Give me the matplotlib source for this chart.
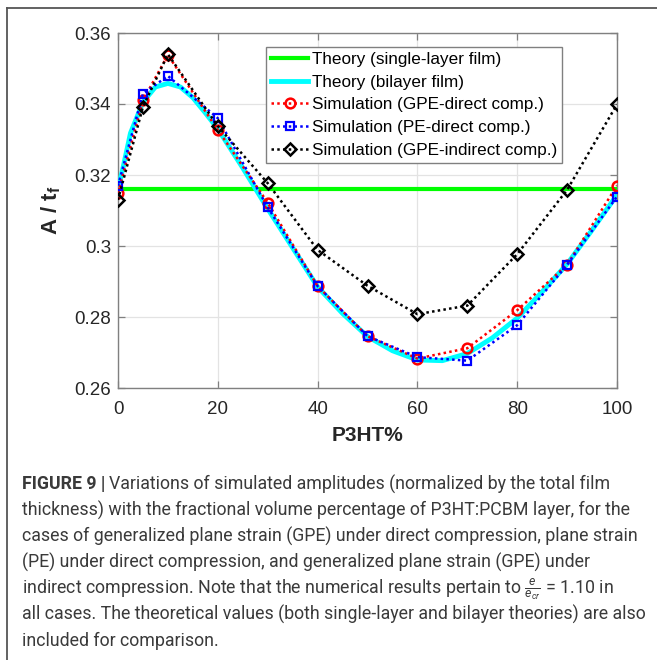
import matplotlib
matplotlib.use("Agg")
import matplotlib.pyplot as plt
from matplotlib.lines import Line2D

# values
x_pct = [0, 5, 10, 20, 30, 40, 50, 60, 70, 80, 90, 100]
gpe_direct = [0.315, 0.341, 0.3538, 0.3327, 0.3122, 0.2887, 0.2746, 0.2683, 0.2712, 0.2819, 0.2947, 0.317]
pe_direct = [0.317, 0.3429, 0.3479, 0.336, 0.3109, 0.2887, 0.2746, 0.2687, 0.2677, 0.2777, 0.2947, 0.3139]
gpe_indirect = [0.313, 0.3392, 0.354, 0.3338, 0.3177, 0.2989, 0.2888, 0.2808, 0.2832, 0.2977, 0.3158, 0.3399]
single_layer = 0.316

theory_x = [0, 1, 2.5, 5, 7.5, 10, 12.5, 15, 17.5, 20, 25, 30, 35, 40, 45, 50,
            55, 60, 65, 70, 75, 80, 85, 90, 95, 100]
theory_bilayer = [0.316, 0.322, 0.3318, 0.3405, 0.3448, 0.3458, 0.3448, 0.3418, 0.3375, 0.333,
                  0.322, 0.3105, 0.2995, 0.2885, 0.281, 0.2745, 0.2705, 0.2679, 0.2677, 0.2697,
                  0.2741, 0.2797, 0.2871, 0.2949, 0.3045, 0.3144]

legend_labels = ["Theory (single-layer film)", "Theory (bilayer film)",
                 "Simulation (GPE-direct comp.)", "Simulation (PE-direct comp.)",
                 "Simulation (GPE-indirect comp.)"]
xticks = [0, 20, 40, 60, 80, 100]
yticks = [0.26, 0.28, 0.30, 0.32, 0.34, 0.36]
ytick_labels = ["0.26", "0.28", "0.3", "0.32", "0.34", "0.36"]

caption_bold = "FIGURE 9 |"
caption_lines = [
    "Variations of simulated amplitudes (normalized by the total film",
    "thickness) with the fractional volume percentage of P3HT:PCBM layer, for the",
    "cases of generalized plane strain (GPE) under direct compression, plane strain",
    "(PE) under direct compression, and generalized plane strain (GPE) under",
    r"indirect compression. Note that the numerical results pertain to $\frac{e}{e_{cr}}$ = 1.10 in",
    "all cases. The theoretical values (both single-layer and bilayer theories) are also",
    "included for comparison.",
]

plt.rcParams['font.family'] = ['Liberation Sans', 'DejaVu Sans']
plt.rcParams['mathtext.fontset'] = 'custom'
plt.rcParams['mathtext.rm'] = 'Roboto'
plt.rcParams['mathtext.it'] = 'Roboto:italic'
plt.rcParams['mathtext.bf'] = 'Liberation Sans:bold'

W, H = 657, 660
fig = plt.figure(figsize=(W / 100, H / 100), dpi=100)
ax = fig.add_axes([118 / W, 1 - 388 / H, 499 / W, 355 / H])

dots = (0, (1, 1.3))
ax.plot([0, 100], [single_layer, single_layer], color='#00ff00', lw=3, label=legend_labels[0], zorder=3)
ax.plot(theory_x, theory_bilayer, color='#00ffff', lw=3.5, label=legend_labels[1], zorder=3)
ax.plot(x_pct, gpe_direct, color='red', ls=dots, lw=1.8, marker='o', ms=7, mfc='none',
        mew=1.8, label=legend_labels[2], zorder=4)
ax.plot(x_pct, pe_direct, color='blue', ls=dots, lw=1.8, marker='s', ms=6, mfc='none',
        mew=1.6, label=legend_labels[3], zorder=5)
ax.plot(x_pct, gpe_indirect, color='black', ls=dots, lw=1.8, marker='D', ms=6.5, mfc='none',
        mew=1.8, label=legend_labels[4], zorder=6)

ax.set_xlim(0, 100)
ax.set_ylim(0.26, 0.36)
ax.set_xticks(xticks)
ax.set_yticks(yticks)
ax.set_yticklabels(ytick_labels)
ax.grid(True, color='#e3e3e3', lw=0.9)
ax.set_axisbelow(True)
for s in ax.spines.values():
    s.set_color('#808080')
    s.set_linewidth(1.0)
ax.tick_params(direction='in', length=5, width=0.9, color='#808080', labelcolor='#262626',
               labelsize=13.5, top=True, right=True)
ax.tick_params(axis='x', pad=9)
ax.tick_params(axis='y', pad=5)

ax.set_xlabel("P3HT%", fontsize=15, fontweight='bold', color='#262626', labelpad=6)
ax.set_ylabel(r"A / t$_{\mathbf{f}}$", fontsize=16, fontweight='bold', color='#262626', labelpad=8)

leg = ax.legend(loc='upper right', bbox_to_anchor=(0.89, 0.961), borderaxespad=0,
                fontsize=12.3, numpoints=1, handlelength=2.2, handletextpad=0.2,
                labelspacing=0.45, borderpad=0.3, fancybox=False, framealpha=1)
leg.get_frame().set_edgecolor('#808080')
leg.get_frame().set_linewidth(1.0)

# frame of the journal figure box
fig.add_artist(Line2D([7 / W, 7 / W], [0, 1 - 8 / H], transform=fig.transFigure,
                      color='#555555', lw=1.3))
fig.add_artist(Line2D([7 / W, 1], [1 - 8 / H, 1 - 8 / H], transform=fig.transFigure,
                      color='#555555', lw=1.3))

# caption
cap_kw = dict(family=['Roboto', 'DejaVu Sans'], fontsize=12.75, color='#3a3a3a', va='baseline')
x0 = 22 / W
t = fig.text(x0, 1 - 489.5 / H, caption_bold, fontweight='bold', **cap_kw)
fig.canvas.draw()
bb = t.get_window_extent(fig.canvas.get_renderer())
fig.text((bb.x1 + 4) / W, 1 - 489.5 / H, caption_lines[0], **cap_kw)
for i, line in enumerate(caption_lines[1:], start=1):
    fig.text(x0, 1 - (489.5 + 26.1 * i) / H, line, **cap_kw)

fig.savefig("out.png", dpi=100)
